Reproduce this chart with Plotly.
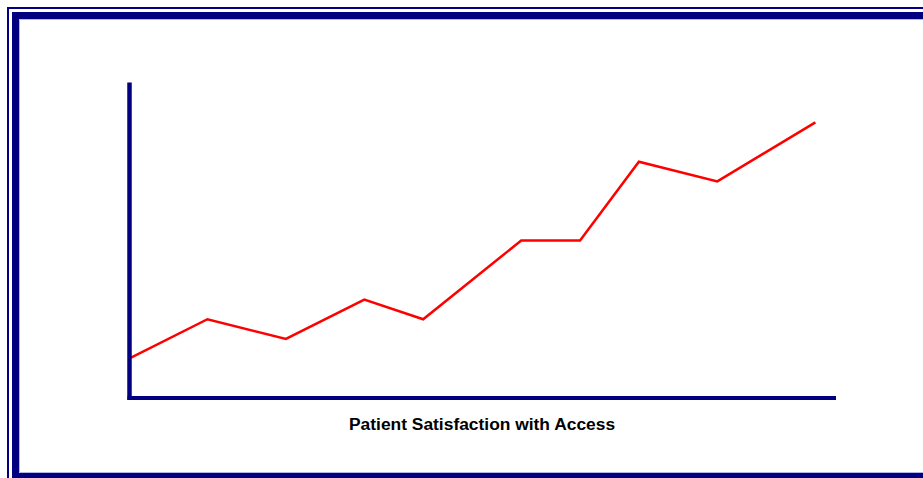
import plotly.graph_objects as go

# Survey periods and satisfaction scores
periods = [0, 4, 8, 12, 15, 20, 23, 26, 30, 35]
scores = [2, 4, 3, 5, 4, 8, 8, 12, 11, 14]
chart_title = "Patient Satisfaction with Access"

NAVY = "#000080"
W, H = 923, 478
L, R, T, B = 129, 835, 83, 398  # plot area in pixels


def px(x):
    return (x - L) / (R - L)


def py(y):
    return (B - y) / (B - T)


fig = go.Figure()
fig.add_trace(go.Scatter(
    x=periods, y=scores, mode="lines",
    line=dict(color="#ff0000", width=2.5),
    hoverinfo="skip", showlegend=False,
))

shapes = [
    # outer thin frame
    dict(type="rect", xref="paper", yref="paper",
         x0=px(8), y0=py(8), x1=px(940), y1=py(495),
         line=dict(color=NAVY, width=2), layer="below"),
    # inner thick frame
    dict(type="rect", xref="paper", yref="paper",
         x0=px(15.5), y0=py(15.5), x1=px(940), y1=py(476.5),
         line=dict(color=NAVY, width=7), layer="below"),
    # soft inner edge of thick frame
    dict(type="rect", xref="paper", yref="paper",
         x0=px(19.5), y0=py(19.5), x1=px(945), y1=py(472.5),
         line=dict(color="#b4b4e6", width=1), layer="below"),
    # y axis
    dict(type="line", xref="paper", yref="paper",
         x0=px(129.5), y0=py(82.5), x1=px(129.5), y1=py(400),
         line=dict(color=NAVY, width=4.5), layer="above"),
    # x axis
    dict(type="line", xref="paper", yref="paper",
         x0=px(127.5), y0=py(398), x1=px(836), y1=py(398),
         line=dict(color=NAVY, width=4), layer="above"),
]

fig.update_layout(
    width=W, height=H,
    margin=dict(l=L, r=W - R, t=T, b=H - B, pad=0),
    paper_bgcolor="white", plot_bgcolor="white",
    showlegend=False,
    xaxis=dict(range=[0, 36], visible=False, fixedrange=True),
    yaxis=dict(range=[0, 16], visible=False, fixedrange=True),
    shapes=shapes,
    annotations=[dict(
        text=chart_title, xref="paper", yref="paper",
        x=0.5, y=py(423.5), xanchor="center", yanchor="middle",
        showarrow=False,
        font=dict(family="Liberation Sans, Arial, sans-serif", size=17.4,
                  color="black", weight="bold"),
    )],
)

fig.write_html("out.html", config={"displayModeBar": False})
